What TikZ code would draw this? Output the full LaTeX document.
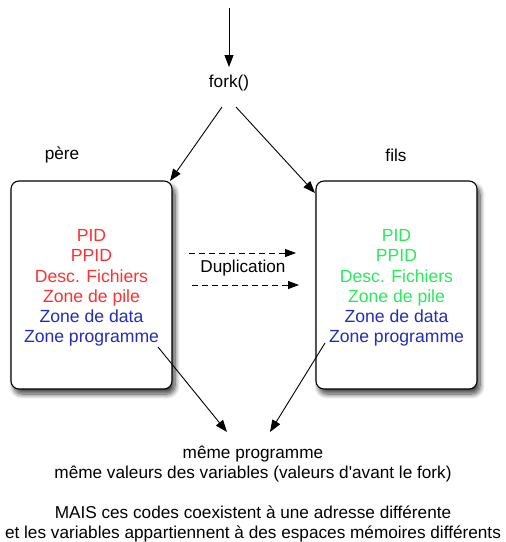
\documentclass[tikz,border=0pt]{standalone}
\usepackage{fontspec}
\setmainfont{Liberation Sans}
\usetikzlibrary{arrows.meta,shadows.blur,calc}
\definecolor{pred}{RGB}{250,50,50}
\definecolor{pgreen}{RGB}{40,235,90}
\definecolor{pblue}{RGB}{35,45,185}
\tikzset{
  procbox/.style={draw=black, line width=1.1pt, rounded corners=8pt, fill=white,
    minimum width=161pt, minimum height=208pt, inner sep=0pt,
    blur shadow={shadow xshift=3pt, shadow yshift=-5pt, shadow blur steps=10, shadow blur radius=5pt, shadow opacity=75}},
  boxtxt/.style={align=center, inner sep=0pt, font=\fontsize{17.6}{20.3}\selectfont},
  lbl/.style={font=\fontsize{17.2}{20}\selectfont, inner sep=0pt, align=center},
  arr/.style={-{Triangle[length=12pt,width=9pt]}, line width=0.9pt},
  darr/.style={-{Triangle[length=11pt,width=8pt]}, line width=0.9pt, dash pattern=on 6pt off 4pt}
}
\begin{document}
\begin{tikzpicture}[x=1pt,y=-1pt]
\useasboundingbox (0,0) rectangle (506,542);
\node[procbox] (pere) at (91.5,285) {};
\node[procbox] (fils) at (396.5,285) {};
\node[boxtxt] (pereTxt) at ($(pere.center)+(0,3)$) {\color{pred}PID\\\color{pred}PPID\\\color{pred}Desc. Fichiers\\\color{pred}Zone de pile\\\color{pblue}Zone de data\\\color{pblue}Zone programme};
\node[boxtxt] (filsTxt) at ($(fils.center)+(0,3)$) {\color{pgreen}PID\\\color{pgreen}PPID\\\color{pgreen}Desc. Fichiers\\\color{pgreen}Zone de pile\\\color{pblue}Zone de data\\\color{pblue}Zone programme};
\node[lbl] (fork) at (229,83) {fork()};
\node[lbl] (lpere) at (62,155) {père};
\node[lbl] (lfils) at (396,155) {fils};
\node[lbl] (dup) at (243,268) {Duplication};
\node[lbl] (txt) at (253,494) {même programme\\même valeurs des variables (valeurs d\textquotesingle avant le fork)\\[20pt]MAIS ces codes coexistent à une adresse différente\\et les variables appartiennent à des espaces mémoires différents};
\coordinate (top) at (229,8);
\coordinate (forkin) at (229,67);
\coordinate (forkl) at (222,107);
\coordinate (forkr) at (236,107);
\coordinate (pereIn) at (170,181);
\coordinate (filsIn) at (315,193);
\coordinate (d1a) at (189,253);
\coordinate (d1b) at (296,253);
\coordinate (d2a) at (192,285);
\coordinate (d2b) at (299,285);
\coordinate (pereOut) at (158,347);
\coordinate (filsOut) at (325,343);
\coordinate (outL) at (227,432);
\coordinate (outR) at (270,432);
\draw[arr] (top) -- (forkin);
\draw[arr] (forkl) -- (pereIn);
\draw[arr] (forkr) -- (filsIn);
\draw[darr] (d1a) -- (d1b);
\draw[darr] (d2a) -- (d2b);
\draw[arr] (pereOut) -- (outL);
\draw[arr] (filsOut) -- (outR);
\end{tikzpicture}
\end{document}
